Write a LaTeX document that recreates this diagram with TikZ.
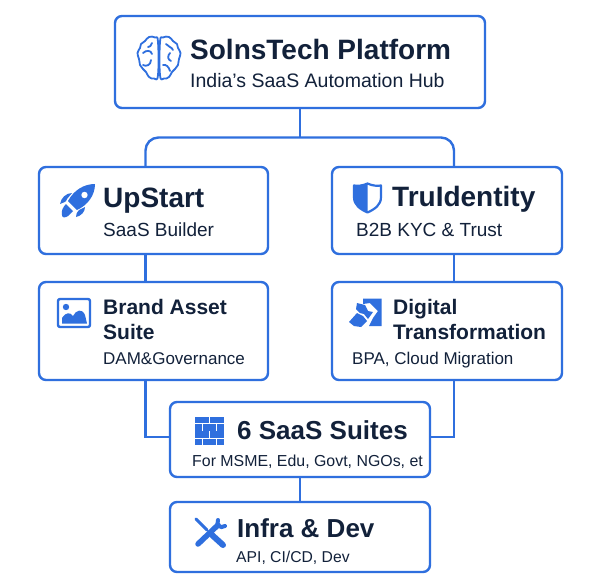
\documentclass[tikz,border=0pt]{standalone}
\usepackage{fontspec}
\setmainfont{Liberation Sans}
\usetikzlibrary{calc}
\definecolor{bluemain}{HTML}{2F6FDE}
\definecolor{inkdark}{HTML}{12213A}
\tikzset{
  card/.style={draw=bluemain,line width=2.4pt,rounded corners=7pt,fill=white,inner sep=0pt},
  conn/.style={draw=bluemain,line width=2.4pt},
  lab/.style={anchor=base west,inner sep=0pt,text=inkdark},
  headb/.style={lab,font=\fontsize{#1}{#1}\selectfont\bfseries},
  subt/.style={lab,font=\fontsize{#1}{#1}\selectfont},
  iconline/.style={draw=bluemain,line width=1.7pt,line cap=round,line join=round},
  iconfill/.style={fill=bluemain,draw=none}
}
\begin{document}
\begin{tikzpicture}[x=1pt,y=-1pt]
\useasboundingbox (0,0) rectangle (600,584);
\fill[white] (0,0) rectangle (600,584);
\node[card,minimum width=370pt,minimum height=92pt] (top) at (300,62) {};
\node[card,minimum width=229pt,minimum height=87pt] (upstart) at (153.5,210.5) {};
\node[card,minimum width=230pt,minimum height=87pt] (trui) at (447,210.5) {};
\node[card,minimum width=229pt,minimum height=98pt] (brand) at (153.5,331) {};
\node[card,minimum width=230pt,minimum height=98pt] (digital) at (447,331) {};
\node[card,minimum width=260pt,minimum height=75pt] (suites) at (300,439.5) {};
\node[card,minimum width=260pt,minimum height=70pt] (infra) at (300,537) {};
\coordinate (fork) at (300,137.5);
\draw[conn,rounded corners=13pt] ($(upstart.north)+(-8,0)$) |- (fork) -| ($(trui.north)+(7,0)$);
\draw[conn] (top.south) -- (fork);
\draw[conn] ($(upstart.south)+(-8,0)$) -- ($(brand.north)+(-8,0)$);
\draw[conn] ($(trui.south)+(7,0)$) -- ($(digital.north)+(7,0)$);
\draw[conn] ($(brand.south)+(-8,0)$) |- ($(suites.west)+(0,-2.5)$);
\draw[conn] ($(digital.south)+(7,0)$) |- ($(suites.east)+(0,-2.5)$);
\draw[conn] (suites.south) -- (infra.north);
% text
\node[headb=28] (t1) at (190,59) {SolnsTech Platform};
\node[subt=19.5] (t2) at (190,87) {India’s SaaS Automation Hub};
\node[headb=28] (t3) at (103,207) {UpStart};
\node[subt=19] (t4) at (103,236) {SaaS Builder};
\node[headb=28] (t5) at (392,206) {TruIdentity};
\node[subt=19] (t6) at (356,236) {B2B KYC \& Trust};
\node[headb=21] (t7) at (103,314) {Brand Asset};
\node[headb=21] (t8) at (103,339) {Suite};
\node[subt=17] (t9) at (103,364) {DAM\&Governance};
\node[headb=21] (t10) at (393,314) {Digital};
\node[headb=21] (t11) at (393,339) {Transformation};
\node[subt=17] (t12) at (352,364) {BPA, Cloud Migration};
\node[headb=26] (t13) at (237,439) {6 SaaS Suites};
\node[subt=15.9] (t14) at (192,466) {For MSME, Edu, Govt, NGOs, et};
\node[headb=26] (t15) at (237,537) {Infra \& Dev};
\node[subt=15.7] (t16) at (236,562) {API, CI/CD, Dev};
% brain
\begin{scope}[iconline,line width=1.8pt]
\draw plot[smooth cycle,tension=.75] coordinates {(158,42)(155,37.5)(149,37)(145,41)(141,44)(140,48)(137.5,53)(139,59)(140,65)(143,69)(146,72)(149,77)(154,78.5)(158,75)};
\draw plot[smooth cycle,tension=.75] coordinates {(160,42)(163,37.5)(169,37)(173,41)(177,44)(178,48)(180.5,53)(179,59)(178,65)(175,69)(172,72)(169,77)(164,78.5)(160,75)};
\draw (143,53) .. controls (146,50) and (151,50) .. (152,54);
\draw (151,60) .. controls (151,65) and (146,67) .. (143,65);
\draw (152,43) .. controls (151,46) and (150,47) .. (148,47);
\draw (166,44) .. controls (168,47) and (172,47) .. (173,50);
\draw (170,53) .. controls (167,56) and (168,60) .. (171,61);
\draw (163,65) .. controls (166,64) and (169,67) .. (170,71);
\end{scope}
% rocket
\fill[bluemain] (95,184) .. controls (84,184) and (74,190) .. (68,201) -- (77,210) .. controls (88,205) and (95,195) .. (95,184) -- cycle;
\fill[white] (84.5,195) circle (3.2pt);
\fill[bluemain] (72,193) .. controls (66,193) and (61,198) .. (60,204) .. controls (63,202) and (66,203) .. (67,199) -- cycle;
\fill[bluemain] (85,207) .. controls (85,212) and (81,216) .. (76,217) .. controls (77,214) and (76,212) .. (79,210) -- cycle;
\fill[bluemain] (66,204) -- (73,211) -- (68,216) .. controls (65,218) and (62,218) .. (62,215) .. controls (61,211) and (63,207) .. (66,204) -- cycle;
% picture
\draw[iconline,line width=2.4pt,rounded corners=2pt] (58,299) rectangle (90,327);
\fill[bluemain] (62,323.5) -- (62,318) .. controls (66,312) and (70,312) .. (73,316) .. controls (76,310) and (82,308) .. (85,315) -- (87,323.5) -- cycle;
\fill[bluemain] (66,307) circle (3.2pt);
% shield
\draw[iconline,line width=2.2pt] (367.5,183.5) .. controls (362,186) and (358,186) .. (354,185.5) -- (354,197) .. controls (354,205) and (360,209) .. (367.5,212.5) .. controls (375,209) and (381,205) .. (381,197) -- (381,185.5) .. controls (377,186) and (373,186) .. (367.5,183.5) -- cycle;
\fill[bluemain] (367.5,183.5) .. controls (362,186) and (358,186) .. (354,185.5) -- (354,197) .. controls (354,205) and (360,209) .. (367.5,212.5) -- cycle;
% digital icon
\fill[bluemain] (363,298.5) -- (381.5,298.5) -- (381.5,326) -- (369,326) -- (373,318) -- (378,311) -- (370,303) -- (363,304) -- cycle;
\fill[bluemain] (357,303) -- (365,305) -- (368,311) -- (373,312) -- (368,319) -- (364,314) -- (360,313) -- (356,309) -- cycle;
\fill[bluemain] (349,322) -- (357,313) -- (363,316) -- (367,321) -- (361,327) -- (354,326) -- cycle;
% bricks
\foreach \a/\b/\c/\d in {195/417/209.2/423.3,210.2/417/224/423.3,195/424.2/202/430.5,203/424.2/216/430.5,217/424.2/224/430.5,195/431.4/209.2/437.7,210.2/431.4/224/437.7,195/438.6/202/444.5,203/438.6/216/444.5,217/438.6/224/444.5}
  \fill[bluemain] (\a,\b) rectangle (\c,\d);
% tools
\draw[bluemain,line width=3pt,line cap=round] (196,519) -- (207,530);
\draw[bluemain,line width=6pt,line cap=round] (212,535) -- (223,545);
\draw[bluemain,line width=5.5pt,line cap=round] (198,544) -- (218,525);
\draw[bluemain,line width=4pt,line cap=round] (218,520) .. controls (216,525) and (220,529) .. (225,526);
\end{tikzpicture}
\end{document}
